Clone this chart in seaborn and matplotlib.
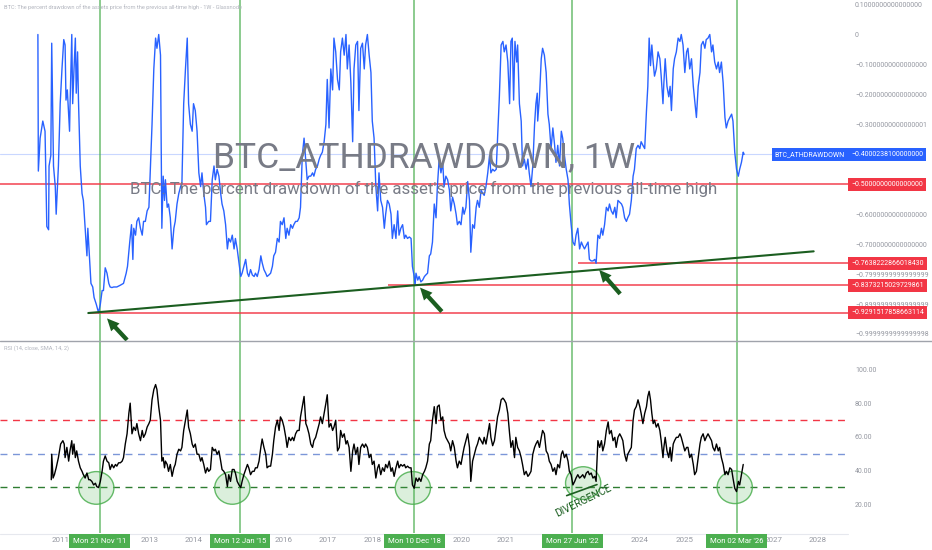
import pandas as pd
import seaborn as sns
import matplotlib.pyplot as plt
import matplotlib.transforms as mtransforms
from matplotlib.patches import Ellipse
from matplotlib.lines import Line2D

# BTC drawdown from previous ATH, weekly
dd_year = [
    2010.50, 2010.51, 2010.55, 2010.61, 2010.66, 2010.70, 2010.74, 2010.75, 2010.79, 2010.81,
    2010.85, 2010.89, 2010.91, 2010.96, 2011.00, 2011.04, 2011.08, 2011.11, 2011.13, 2011.16,
    2011.21, 2011.22, 2011.26, 2011.28, 2011.31, 2011.34, 2011.36, 2011.39, 2011.41, 2011.45,
    2011.49, 2011.52, 2011.56, 2011.60, 2011.62, 2011.66, 2011.69, 2011.73, 2011.76, 2011.81,
    2011.86, 2011.90, 2011.94, 2011.97, 2012.01, 2012.05, 2012.09, 2012.12, 2012.16, 2012.20,
    2012.27, 2012.35, 2012.42, 2012.48, 2012.51, 2012.56, 2012.60, 2012.63, 2012.65, 2012.69,
    2012.72, 2012.76, 2012.80, 2012.84, 2012.87, 2012.91, 2012.95, 2012.99, 2013.02, 2013.06,
    2013.10, 2013.14, 2013.17, 2013.21, 2013.25, 2013.28, 2013.31, 2013.34, 2013.36, 2013.40,
    2013.43, 2013.47, 2013.51, 2013.55, 2013.58, 2013.62, 2013.66, 2013.70, 2013.73, 2013.77,
    2013.81, 2013.85, 2013.88, 2013.92, 2013.96, 2013.99, 2014.03, 2014.07, 2014.11, 2014.15,
    2014.18, 2014.22, 2014.26, 2014.28, 2014.33, 2014.37,
    2014.41, 2014.45, 2014.48, 2014.52, 2014.56, 2014.60, 2014.63, 2014.67, 2014.71, 2014.75,
    2014.78, 2014.82, 2014.86, 2014.90, 2014.93, 2014.97, 2015.01, 2015.05, 2015.08, 2015.12,
    2015.16, 2015.20, 2015.23, 2015.27, 2015.31, 2015.35, 2015.38, 2015.42, 2015.46, 2015.50,
    2015.53, 2015.57, 2015.61, 2015.64, 2015.68, 2015.72, 2015.76, 2015.79, 2015.83, 2015.87,
    2015.91, 2015.94, 2015.98, 2016.02, 2016.06, 2016.09, 2016.13, 2016.17, 2016.21, 2016.24,
    2016.28, 2016.32, 2016.36, 2016.39, 2016.43, 2016.47, 2016.51, 2016.54, 2016.58, 2016.62,
    2016.66, 2016.69, 2016.73, 2016.77, 2016.81, 2016.84, 2016.88, 2016.92, 2016.96, 2016.99,
    2017.03, 2017.07, 2017.11, 2017.14, 2017.18, 2017.22, 2017.26, 2017.29, 2017.33, 2017.37,
    2017.41, 2017.44, 2017.48, 2017.52, 2017.56, 2017.59, 2017.63, 2017.67, 2017.70, 2017.74,
    2017.78, 2017.82, 2017.85, 2017.89, 2017.93, 2017.97, 2018.00, 2018.04, 2018.08, 2018.12,
    2018.15, 2018.19, 2018.23, 2018.27, 2018.30, 2018.34, 2018.38, 2018.42,
    2018.45, 2018.49, 2018.53, 2018.57, 2018.60, 2018.64, 2018.68, 2018.72, 2018.75, 2018.79,
    2018.83, 2018.87, 2018.90, 2018.94, 2018.96, 2018.98, 2019.02, 2019.05, 2019.09, 2019.13, 2019.17,
    2019.20, 2019.24, 2019.28, 2019.31, 2019.35, 2019.39, 2019.43, 2019.46, 2019.50, 2019.54,
    2019.58, 2019.61, 2019.65, 2019.69, 2019.73, 2019.76, 2019.80, 2019.84, 2019.88, 2019.91,
    2019.95, 2019.99, 2020.03, 2020.06, 2020.10, 2020.14, 2020.18, 2020.21, 2020.25, 2020.29,
    2020.33, 2020.36, 2020.40, 2020.44, 2020.48, 2020.51, 2020.55, 2020.59, 2020.63, 2020.66,
    2020.70, 2020.74, 2020.78, 2020.81, 2020.85, 2020.89, 2020.93, 2020.96, 2021.00, 2021.04,
    2021.08, 2021.11, 2021.14, 2021.17, 2021.20, 2021.24, 2021.26, 2021.30, 2021.34, 2021.37, 2021.41,
    2021.45, 2021.49, 2021.52, 2021.56, 2021.60, 2021.64, 2021.67, 2021.70, 2021.71, 2021.75, 2021.79,
    2021.82, 2021.86, 2021.90, 2021.94, 2021.97, 2022.01, 2022.05, 2022.09, 2022.12, 2022.16,
    2022.20, 2022.24, 2022.27, 2022.31, 2022.35, 2022.39, 2022.42, 2022.46,
    2022.50, 2022.54, 2022.57, 2022.61, 2022.65, 2022.69, 2022.72, 2022.76, 2022.80, 2022.84,
    2022.87, 2022.91, 2022.95, 2022.99, 2023.02, 2023.06, 2023.10, 2023.14, 2023.17, 2023.21,
    2023.25, 2023.29, 2023.32, 2023.36, 2023.40, 2023.44, 2023.47, 2023.51, 2023.55, 2023.59,
    2023.62, 2023.66, 2023.70, 2023.73, 2023.77, 2023.81, 2023.85, 2023.88, 2023.92, 2023.96,
    2024.00, 2024.03, 2024.07, 2024.11, 2024.15, 2024.18, 2024.21, 2024.24, 2024.27, 2024.30, 2024.33,
    2024.37, 2024.41, 2024.45, 2024.48, 2024.52, 2024.54, 2024.57, 2024.61, 2024.65, 2024.68, 2024.71,
    2024.75, 2024.78, 2024.82, 2024.86, 2024.90, 2024.93, 2024.97, 2025.01, 2025.05, 2025.08,
    2025.12, 2025.16, 2025.20, 2025.23, 2025.27, 2025.31, 2025.35, 2025.38, 2025.42, 2025.46,
    2025.49, 2025.53, 2025.57, 2025.61, 2025.64, 2025.68, 2025.72, 2025.76, 2025.79, 2025.83,
    2025.87, 2025.91, 2025.94, 2025.98, 2026.02, 2026.06, 2026.09, 2026.13, 2026.17, 2026.21,
    2026.24, 2026.28, 2026.32, 2026.34,
]
dd_value = [
    0.0, -0.456, -0.346, -0.289, -0.323, -0.641, -0.652, -0.439, -0.404, -0.029,
    -0.439, -0.508, -0.600, -0.439, -0.231, -0.115, -0.017, -0.035, -0.219, -0.185,
    -0.323, -0.242, 0.0, -0.231, -0.115, -0.012, -0.196, -0.058, -0.219, -0.439,
    -0.531, -0.554, -0.647, -0.739, -0.647, -0.751, -0.831, -0.843, -0.878, -0.901,
    -0.929, -0.901, -0.855, -0.855, -0.779, -0.797, -0.831, -0.843, -0.845, -0.843,
    -0.843, -0.837, -0.831, -0.797, -0.774, -0.693, -0.635, -0.751, -0.647, -0.670,
    -0.624, -0.612, -0.647, -0.670, -0.624, -0.624, -0.589, -0.577, -0.462, -0.300,
    -0.115, -0.012, -0.046, 0.0, -0.069, -0.647, -0.473, -0.554, -0.485, -0.577,
    -0.566, -0.612, -0.716, -0.647, -0.624, -0.566, -0.531, -0.508, -0.497, -0.231,
    -0.115, -0.012, -0.231, -0.300, -0.323, -0.231, -0.254, -0.323, -0.462, -0.508,
    -0.462, -0.531, -0.577, -0.635, -0.624, -0.624,
    -0.485, -0.439, -0.485, -0.450, -0.473, -0.531, -0.566, -0.589, -0.635, -0.716,
    -0.681, -0.693, -0.670, -0.716, -0.681, -0.716, -0.762, -0.808, -0.797, -0.774,
    -0.751, -0.797, -0.808, -0.785, -0.803, -0.808, -0.797, -0.808, -0.785, -0.739,
    -0.762, -0.785, -0.797, -0.808, -0.803, -0.797, -0.774, -0.739, -0.727, -0.681,
    -0.693, -0.624, -0.635, -0.612, -0.681, -0.647, -0.670, -0.635, -0.647, -0.635,
    -0.624, -0.624, -0.612, -0.577, -0.404, -0.346, -0.427, -0.485, -0.473, -0.473,
    -0.462, -0.473, -0.450, -0.439, -0.416, -0.404, -0.393, -0.358, -0.300, -0.150,
    -0.312, -0.115, -0.185, -0.012, -0.058, -0.150, -0.185, -0.058, -0.012, -0.069,
    0.0, -0.115, -0.035, -0.162, -0.358, -0.115, -0.035, -0.023, -0.254, -0.046,
    -0.029, -0.115, -0.035, 0.0, -0.069, -0.127, -0.289, -0.346, -0.508, -0.589,
    -0.462, -0.554, -0.577, -0.647, -0.600, -0.554, -0.566, -0.600,
    -0.681, -0.635, -0.681, -0.589, -0.670, -0.647, -0.635, -0.681, -0.670, -0.681,
    -0.676, -0.681, -0.774, -0.808, -0.837, -0.797, -0.820, -0.808, -0.826, -0.820, -0.808,
    -0.803, -0.797, -0.739, -0.733, -0.693, -0.566, -0.612, -0.508, -0.416, -0.462,
    -0.427, -0.508, -0.473, -0.485, -0.520, -0.589, -0.543, -0.566, -0.600, -0.635,
    -0.624, -0.635, -0.577, -0.600, -0.577, -0.491, -0.554, -0.727, -0.635, -0.647,
    -0.577, -0.554, -0.577, -0.520, -0.531, -0.537, -0.508, -0.462, -0.404, -0.462,
    -0.450, -0.456, -0.450, -0.346, -0.208, -0.035, -0.023, -0.058, -0.035, -0.092,
    -0.231, -0.023, -0.012, -0.219, -0.023, -0.092, -0.035, -0.231, -0.289, -0.439, -0.416,
    -0.450, -0.416, -0.462, -0.508, -0.439, -0.300, -0.231, -0.196, -0.289, -0.208, -0.081,
    -0.046, -0.069, -0.127, -0.266, -0.300, -0.381, -0.312, -0.370, -0.427, -0.370,
    -0.439, -0.323, -0.346, -0.404, -0.450, -0.485, -0.566, -0.635,
    -0.693, -0.704, -0.670, -0.647, -0.716, -0.693, -0.704, -0.716, -0.704, -0.693,
    -0.751, -0.756, -0.756, -0.751, -0.764, -0.670, -0.681, -0.647, -0.670, -0.635,
    -0.577, -0.589, -0.566, -0.589, -0.600, -0.577, -0.612, -0.554, -0.560, -0.566,
    -0.577, -0.612, -0.624, -0.612, -0.600, -0.554, -0.473, -0.450, -0.381, -0.370,
    -0.381, -0.358, -0.370, -0.381, -0.254, -0.173, -0.012, -0.104, -0.035, -0.092, -0.139,
    -0.115, -0.058, -0.081, -0.139, -0.231, -0.162, -0.081, -0.173, -0.208, -0.173, -0.254,
    -0.115, -0.081, -0.058, -0.012, -0.023, 0.0, -0.035, -0.127, -0.058, -0.046,
    -0.115, -0.081, -0.173, -0.219, -0.277, -0.173, -0.127, -0.035, -0.023, -0.046,
    -0.017, -0.012, 0.0, -0.058, -0.035, -0.092, -0.115, -0.092, -0.127, -0.092,
    -0.162, -0.277, -0.312, -0.289, -0.277, -0.266, -0.289, -0.393, -0.450, -0.473,
    -0.450, -0.427, -0.393, -0.400,
]

# RSI (14, close, SMA 14) of the drawdown series
rsi_year = [
    2010.80, 2010.81, 2010.84, 2010.87, 2010.91, 2010.96, 2011.01, 2011.06, 2011.09, 2011.11,
    2011.15, 2011.19, 2011.22, 2011.26, 2011.28, 2011.31, 2011.34, 2011.37, 2011.41, 2011.45,
    2011.49, 2011.52, 2011.56, 2011.60, 2011.64, 2011.67, 2011.71, 2011.75, 2011.79, 2011.82,
    2011.86, 2011.90, 2011.94, 2011.97, 2012.01, 2012.05, 2012.09, 2012.12, 2012.16, 2012.20,
    2012.24, 2012.27, 2012.31, 2012.35, 2012.39, 2012.42, 2012.46, 2012.50, 2012.54, 2012.57,
    2012.61, 2012.65, 2012.69, 2012.72, 2012.76, 2012.80, 2012.84, 2012.87, 2012.91, 2012.95,
    2012.99, 2013.02, 2013.06, 2013.10, 2013.14, 2013.17, 2013.21, 2013.25, 2013.28, 2013.31,
    2013.34, 2013.36, 2013.40, 2013.43, 2013.47, 2013.51, 2013.55, 2013.58, 2013.62, 2013.66,
    2013.70, 2013.73, 2013.77, 2013.81, 2013.85, 2013.88, 2013.92, 2013.96, 2013.99, 2014.03,
    2014.07, 2014.11, 2014.15, 2014.18, 2014.22, 2014.26, 2014.30, 2014.33, 2014.37,
    2014.41, 2014.45, 2014.48, 2014.52, 2014.56, 2014.60, 2014.63, 2014.67, 2014.71, 2014.75,
    2014.78, 2014.82, 2014.86, 2014.90, 2014.93, 2014.97, 2015.01, 2015.05, 2015.08, 2015.12,
    2015.16, 2015.20, 2015.23, 2015.27, 2015.31, 2015.35, 2015.38, 2015.42, 2015.46, 2015.50,
    2015.53, 2015.57, 2015.61, 2015.64, 2015.68, 2015.72, 2015.76, 2015.79, 2015.83, 2015.87,
    2015.91, 2015.94, 2015.98, 2016.02, 2016.06, 2016.09, 2016.13, 2016.17, 2016.21, 2016.24,
    2016.28, 2016.32, 2016.36, 2016.39, 2016.43, 2016.47, 2016.51, 2016.54, 2016.58, 2016.62,
    2016.66, 2016.69, 2016.73, 2016.77, 2016.81, 2016.84, 2016.88, 2016.92, 2016.96, 2016.99,
    2017.03, 2017.07, 2017.11, 2017.14, 2017.18, 2017.22, 2017.26, 2017.29, 2017.33, 2017.37,
    2017.41, 2017.44, 2017.48, 2017.52, 2017.56, 2017.59, 2017.63, 2017.67, 2017.70, 2017.74,
    2017.78, 2017.82, 2017.85, 2017.89, 2017.93, 2017.97, 2018.00, 2018.04, 2018.08, 2018.12,
    2018.15, 2018.19, 2018.23, 2018.27, 2018.30, 2018.34, 2018.38, 2018.42,
    2018.45, 2018.49, 2018.53, 2018.57, 2018.60, 2018.64, 2018.68, 2018.72, 2018.75, 2018.79,
    2018.83, 2018.87, 2018.90, 2018.94, 2018.98, 2019.02, 2019.05, 2019.09, 2019.13, 2019.17,
    2019.20, 2019.24, 2019.28, 2019.31, 2019.35, 2019.39, 2019.43, 2019.46, 2019.50, 2019.54,
    2019.58, 2019.61, 2019.65, 2019.69, 2019.73, 2019.76, 2019.80, 2019.84, 2019.88, 2019.91,
    2019.95, 2019.99, 2020.03, 2020.06, 2020.10, 2020.14, 2020.18, 2020.21, 2020.25, 2020.29,
    2020.33, 2020.36, 2020.40, 2020.44, 2020.48, 2020.51, 2020.55, 2020.59, 2020.63, 2020.66,
    2020.70, 2020.74, 2020.78, 2020.81, 2020.85, 2020.89, 2020.93, 2020.96, 2021.00, 2021.04,
    2021.08, 2021.11, 2021.15, 2021.19, 2021.22, 2021.26, 2021.30, 2021.34, 2021.37, 2021.41,
    2021.45, 2021.49, 2021.52, 2021.56, 2021.60, 2021.64, 2021.67, 2021.71, 2021.75, 2021.79,
    2021.82, 2021.86, 2021.90, 2021.94, 2021.97, 2022.01, 2022.05, 2022.09, 2022.12, 2022.16,
    2022.20, 2022.24, 2022.27, 2022.31, 2022.35, 2022.39, 2022.42, 2022.46,
    2022.50, 2022.54, 2022.57, 2022.61, 2022.65, 2022.69, 2022.72, 2022.76, 2022.80, 2022.84,
    2022.87, 2022.91, 2022.95, 2022.99, 2023.02, 2023.06, 2023.10, 2023.14, 2023.17, 2023.21,
    2023.25, 2023.29, 2023.32, 2023.36, 2023.40, 2023.44, 2023.47, 2023.51, 2023.55, 2023.59,
    2023.62, 2023.66, 2023.70, 2023.73, 2023.77, 2023.81, 2023.85, 2023.88, 2023.92, 2023.96,
    2024.00, 2024.03, 2024.07, 2024.11, 2024.15, 2024.18, 2024.21, 2024.24, 2024.27, 2024.30, 2024.33,
    2024.37, 2024.41, 2024.45, 2024.48, 2024.52, 2024.54, 2024.57, 2024.61, 2024.65, 2024.68, 2024.71,
    2024.75, 2024.78, 2024.82, 2024.86, 2024.90, 2024.93, 2024.97, 2025.01, 2025.05, 2025.08,
    2025.12, 2025.16, 2025.20, 2025.23, 2025.27, 2025.31, 2025.35, 2025.38, 2025.42, 2025.46,
    2025.49, 2025.53, 2025.57, 2025.61, 2025.64, 2025.68, 2025.72, 2025.76, 2025.79, 2025.83,
    2025.87, 2025.91, 2025.94, 2025.98, 2026.02, 2026.06, 2026.09, 2026.13, 2026.17, 2026.21,
    2026.24, 2026.28, 2026.32,
]
rsi_value = [
    34.5, 49.7, 35.5, 37.5, 41.6, 47.7, 55.8, 57.8, 55.8, 47.7,
    53.8, 45.6, 51.7, 57.8, 49.7, 55.8, 47.7, 51.7, 45.6, 41.6,
    39.5, 37.5, 35.5, 38.5, 34.5, 34.5, 33.5, 31.4, 32.4, 30.4,
    29.8, 33.5, 39.5, 45.6, 48.7, 45.6, 44.6, 40.6, 43.6, 41.6,
    43.6, 42.6, 44.6, 44.6, 45.6, 47.7, 55.8, 61.9, 74.1, 80.2,
    61.9, 65.9, 63.9, 68.0, 61.9, 57.8, 63.9, 59.8, 61.9, 65.9,
    68.0, 70.0, 82.2, 88.3, 91.3, 88.3, 78.1, 70.0, 45.6, 47.7,
    41.6, 45.6, 43.6, 39.5, 43.6, 36.5, 41.6, 43.6, 49.7, 52.7,
    51.7, 53.8, 63.9, 70.0, 76.1, 65.9, 61.9, 55.8, 53.8, 55.8,
    49.7, 49.7, 45.6, 47.7, 43.6, 38.5, 41.6, 39.5, 40.6,
    53.8, 51.7, 52.7, 49.7, 51.7, 45.6, 40.6, 39.5, 37.5, 30.4,
    37.5, 33.5, 40.6, 40.6, 38.5, 33.5, 31.4, 29.8, 33.5, 37.5,
    40.6, 43.6, 41.6, 37.5, 39.5, 39.5, 41.6, 41.6, 45.6, 53.8,
    58.8, 53.8, 49.7, 41.6, 42.6, 42.6, 49.7, 57.8, 65.9, 70.0,
    63.9, 72.0, 70.0, 65.9, 59.8, 53.8, 59.8, 57.8, 59.8, 57.8,
    61.9, 63.9, 63.9, 72.0, 78.1, 84.2, 68.0, 65.9, 61.9, 55.8,
    53.8, 57.8, 59.8, 63.9, 68.0, 72.0, 68.0, 74.1, 80.2, 85.2,
    65.9, 68.0, 63.9, 65.9, 70.0, 51.7, 53.8, 63.9, 59.8, 61.9,
    55.8, 57.8, 53.8, 39.5, 51.7, 55.8, 49.7, 53.8, 43.6, 53.8,
    55.8, 53.8, 55.8, 53.8, 47.7, 49.7, 43.6, 45.6, 35.5, 41.6,
    43.6, 37.5, 41.6, 39.5, 43.6, 41.6, 45.6, 39.5,
    41.6, 36.5, 41.6, 45.6, 41.6, 43.6, 42.6, 43.6, 41.6, 42.6,
    41.6, 41.6, 31.4, 29.4, 35.5, 33.5, 35.5, 33.5, 37.5, 39.5,
    41.6, 45.6, 55.8, 57.8, 70.0, 78.1, 68.0, 78.1, 79.1, 70.0,
    72.0, 63.9, 59.8, 57.8, 55.8, 51.7, 57.8, 53.8, 45.6, 41.6,
    45.6, 43.6, 49.7, 53.8, 57.8, 61.9, 53.8, 33.5, 45.6, 49.7,
    53.8, 55.8, 59.8, 57.8, 55.8, 59.8, 55.8, 61.9, 68.0, 59.8,
    54.8, 57.8, 65.9, 72.0, 76.1, 82.2, 83.2, 82.2, 80.2, 74.1,
    61.9, 53.8, 57.8, 47.7, 59.8, 53.8, 51.7, 47.7, 43.6, 37.5,
    39.5, 36.5, 37.5, 39.5, 49.7, 53.8, 55.8, 57.8, 53.8, 59.8,
    63.9, 61.9, 51.7, 49.7, 45.6, 43.6, 39.5, 41.6, 37.5, 43.6,
    41.6, 49.7, 51.7, 47.7, 49.7, 45.6, 39.5, 37.5,
    31.4, 33.5, 35.5, 37.5, 35.5, 36.5, 37.5, 35.5, 38.5, 39.5,
    37.5, 38.5, 35.5, 36.5, 33.5, 57.8, 53.8, 57.8, 51.7, 55.8,
    63.9, 69.0, 61.9, 63.9, 57.8, 59.8, 53.8, 59.8, 61.9, 59.8,
    57.8, 49.7, 45.6, 49.7, 51.7, 53.8, 70.0, 76.1, 78.1, 82.2,
    78.1, 74.1, 68.0, 74.1, 78.1, 84.2, 87.3, 82.2, 74.1, 68.0, 70.0,
    65.9, 68.0, 63.9, 57.8, 47.7, 53.8, 59.8, 51.7, 47.7, 53.8, 45.6,
    55.8, 57.8, 59.8, 59.8, 61.9, 59.8, 55.8, 51.7, 53.8, 53.8,
    47.7, 49.7, 43.6, 37.5, 39.5, 47.7, 55.8, 59.8, 61.9, 57.8,
    59.8, 61.9, 59.8, 57.8, 53.8, 51.7, 55.8, 51.7, 53.8, 47.7,
    43.6, 37.5, 39.5, 37.5, 41.6, 40.6, 35.5, 29.4, 27.4, 33.5,
    31.4, 37.5, 43.6,
]

# horizontal levels drawn on the chart
level_value = [-0.5, -0.7638222866018430, -0.8373215029729861, -0.9291517858663114]
level_label = ['−0.5000000000000000', '−0.7638222866018430', '−0.8373215029729861', '−0.9291517858663114']
level_from = [2009.65, 2022.61, 2018.35, 2011.63]
last_value = -0.40002381
last_label = '−0.4000238100000000'

trend_year = [2011.63, 2027.90]
trend_value = [-0.930, -0.724]

# marked bottoms
mark_year = [2011.89, 2015.03, 2018.94, 2022.49, 2026.17]
mark_label = ["Mon 21 Nov '11", "Mon 12 Jan '15", "Mon 10 Dec '18", "Mon 27 Jun '22", "Mon 02 Mar '26"]
circle_year = [2011.81, 2014.86, 2018.91, 2022.73, 2026.13]
circle_rsi = [29.6, 29.6, 29.6, 32.5, 30.0]
arrow_tip = [(2012.05, -0.948), (2019.07, -0.845), (2023.09, -0.786)]
arrow_tail = [(2012.50, -1.02), (2019.56, -0.925), (2023.56, -0.866)]
div_year = [2022.36, 2023.04]
div_rsi = [25.0, 31.6]

dd_ticks = [0.1, 0, -0.1, -0.2, -0.3, -0.6, -0.7, -0.8, -0.9, -1.0]
dd_tick_labels = ['0.1000000000000000', '0', '−0.1000000000000000', '−0.2000000000000000',
                  '−0.3000000000000001', '−0.6000000000000000', '−0.7000000000000000',
                  '−0.7999999999999999', '−0.8999999999999999', '−0.9999999999999998']
rsi_ticks = [100, 80, 60, 40, 20]
rsi_tick_labels = ['100.00', '80.00', '60.00', '40.00', '20.00']
rsi_levels = [70, 50, 30]
rsi_level_colors = ['#f23645', '#7b96d8', '#2e7d32']
# years not hidden behind the date labels
year_ticks = [2011, 2013, 2014, 2016, 2017, 2018, 2020, 2021, 2024, 2025, 2027, 2028]

BLUE = '#2962ff'
RED = '#f23645'
GREEN = '#4caf50'
DARK_GREEN = '#1b5e20'
GREY = '#9598a1'

sns.set_style('white')
plt.rcParams['font.family'] = ['Roboto', 'DejaVu Sans']

W, H = 932, 550
fig = plt.figure(figsize=(W / 100, H / 100), dpi=100)
ax1 = fig.add_axes([0, 1 - 341 / H, 848 / W, 341 / H])
ax2 = fig.add_axes([0, 1 - 533 / H, 848 / W, 192 / H])
xmin, xmax = 2009.65, 2028.67

dd = pd.DataFrame({'year': dd_year, 'drawdown': dd_value})
rsi = pd.DataFrame({'year': rsi_year, 'rsi': rsi_value})

# top pane
sns.lineplot(data=dd, x='year', y='drawdown', ax=ax1, color=BLUE, lw=1.0,
             estimator=None, sort=False, legend=False, zorder=4)
ax1.axhline(last_value, color=BLUE, lw=0.8, alpha=0.25, zorder=1)
ax1.hlines(level_value, level_from, xmax, color=RED, lw=1.3, alpha=0.8, zorder=3)
ax1.plot(trend_year, trend_value, color=DARK_GREEN, lw=1.5, zorder=5)
for tip, tail in zip(arrow_tip, arrow_tail):
    ax1.annotate('', xy=tip, xytext=tail,
                 arrowprops=dict(arrowstyle='simple,head_length=0.8,head_width=0.75,tail_width=0.28',
                                 fc=DARK_GREEN, ec='none', mutation_scale=11,
                                 shrinkA=0, shrinkB=0), zorder=6)
ax1.set_xlim(xmin, xmax)
ax1.set_ylim(-1.0234, 0.1152)

# bottom pane
for lvl, col in zip(rsi_levels, rsi_level_colors):
    ax2.axhline(lvl, color=col, lw=1.0, ls=(0, (5, 4)), zorder=2)
for cx, cy in zip(circle_year, circle_rsi):
    ax2.add_patch(Ellipse((cx, cy), 0.79, 19.5, fc=(0.298, 0.686, 0.314, 0.2),
                          ec=(0.298, 0.686, 0.314, 0.85), lw=1.0, zorder=3))
sns.lineplot(data=rsi, x='year', y='rsi', ax=ax2, color='black', lw=1.0,
             estimator=None, sort=False, legend=False, zorder=4)
ax2.plot(div_year, div_rsi, color=DARK_GREEN, lw=1.2, zorder=5)
ax2.text(2022.74, 22.0, 'DIVERGENCE', color=DARK_GREEN, fontsize=7.5, rotation=26,
         ha='center', va='center', zorder=5)
ax2.set_xlim(xmin, xmax)
ax2.set_ylim(2.69, 117.3)

for ax in (ax1, ax2):
    for s in ax.spines.values():
        s.set_visible(False)
    for yr in mark_year:
        ax.axvline(yr, color=GREEN, lw=1.2, alpha=0.75, zorder=2)
    ax.set_xlabel('')
    ax.set_ylabel('')
    ax.yaxis.tick_right()
    ax.tick_params(axis='y', length=0, pad=5, labelsize=5, labelcolor=GREY)

ax1.set_yticks(dd_ticks)
ax1.set_yticklabels(dd_tick_labels)
ax1.set_xticks([])
ax2.set_yticks(rsi_ticks)
ax2.set_yticklabels(rsi_tick_labels)
ax2.set_xticks(year_ticks)
ax2.set_xticklabels([str(y) for y in year_ticks])
ax2.tick_params(axis='x', length=0, pad=3, labelsize=5.8, labelcolor=GREY)

# pane separator and time axis line
fig.add_artist(Line2D([0, 1], [1 - 341 / H] * 2, color='#a0a3ab', lw=1.0))
fig.add_artist(Line2D([0, 848 / W], [1 - 533.5 / H] * 2, color='#e6e8ee', lw=0.8))

# price scale labels
blend1 = mtransforms.blended_transform_factory(fig.transFigure, ax1.transData)
for val, lab in zip(level_value, level_label):
    fig.text(851 / W, val, lab, transform=blend1, color='white', fontsize=5,
             va='center', ha='left', zorder=10,
             bbox=dict(boxstyle='square,pad=0.45', fc=RED, ec='none'))
fig.text(851 / W, last_value, last_label, transform=blend1, color='white', fontsize=5,
         va='center', ha='left', zorder=10,
         bbox=dict(boxstyle='square,pad=0.45', fc=BLUE, ec='none'))
fig.text(845 / W, last_value, 'BTC_ATHDRAWDOWN', transform=blend1, color='white', fontsize=5,
         va='center', ha='right', zorder=10,
         bbox=dict(boxstyle='square,pad=0.4', fc=BLUE, ec='none'))

# date labels on the time axis
blend2 = mtransforms.blended_transform_factory(ax2.transData, fig.transFigure)
for yr, lab in zip(mark_year, mark_label):
    fig.text(yr, 1 - 541 / H, lab, transform=blend2, color='white', fontsize=5.6,
             va='center', ha='center', zorder=10,
             bbox=dict(boxstyle='square,pad=0.5', fc=GREEN, ec='none'))

# watermark and pane titles
fig.text(424 / W, 1 - 158 / H, 'BTC_ATHDRAWDOWN, 1W', color='#787b86', fontsize=25.5,
         ha='center', va='center', zorder=0)
fig.text(424 / W, 1 - 189 / H,
         "BTC: The percent drawdown of the asset's price from the previous all-time high",
         color='#787b86', fontsize=12.2, ha='center', va='center', zorder=0)
fig.text(4 / W, 1 - 7 / H,
         'BTC: The percent drawdown of the assets price from the previous all-time high - 1W - Glassnode',
         color='#b2b5be', fontsize=4.1, ha='left', va='center')
fig.text(4 / W, 1 - 348 / H, 'RSI (14, close, SMA, 14, 2)', color='#b2b5be', fontsize=4.1,
         ha='left', va='center')

fig.savefig('out.png', dpi=100, facecolor='white')
